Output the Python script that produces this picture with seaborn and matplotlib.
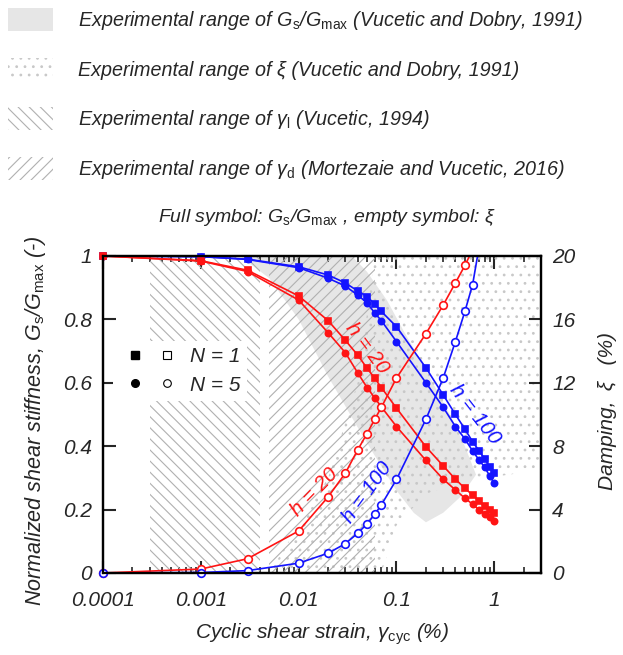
import numpy as np
import pandas as pd
import seaborn as sns
import matplotlib
matplotlib.use('Agg')
import matplotlib.pyplot as plt
from matplotlib.patches import Patch, Rectangle
from matplotlib.lines import Line2D
from matplotlib.legend_handler import HandlerTuple
from matplotlib.ticker import FuncFormatter, LogLocator, NullFormatter

# cyclic shear strain (%)
strain = [0.0001, 0.001, 0.003, 0.01, 0.02, 0.03, 0.04, 0.05, 0.06, 0.07,
          0.1, 0.2, 0.3, 0.4, 0.5, 0.6, 0.7, 0.8, 0.9, 1.0]

# Gs/Gmax, h = 20
g_h20_n1 = [1.0, 0.985, 0.955, 0.874, 0.796, 0.734, 0.688, 0.646, 0.614, 0.585,
            0.52, 0.398, 0.338, 0.296, 0.267, 0.246, 0.227, 0.211, 0.199, 0.188]
g_h20_n5 = [1.0, 0.984, 0.951, 0.861, 0.758, 0.695, 0.632, 0.585, 0.552, 0.524,
            0.462, 0.355, 0.296, 0.262, 0.236, 0.217, 0.199, 0.187, 0.176, 0.163]
# Gs/Gmax, h = 100
g_h100_n1 = [1.0, 0.998, 0.99, 0.966, 0.94, 0.915, 0.89, 0.872, 0.848, 0.825,
             0.777, 0.647, 0.562, 0.50, 0.454, 0.414, 0.385, 0.359, 0.335, 0.315]
g_h100_n5 = [1.0, 0.998, 0.989, 0.963, 0.93, 0.905, 0.877, 0.852, 0.82, 0.796,
             0.73, 0.60, 0.523, 0.462, 0.423, 0.385, 0.356, 0.333, 0.305, 0.283]

# damping (%), curves leave the plot at the top
xi_h20 = [0.0, 0.25, 0.9, 2.65, 4.8, 6.3, 7.75, 8.8, 9.7, 10.45,
          12.3, 15.1, 16.9, 18.3, 19.4, 20.4]
xi_h100 = [0.0, 0.03, 0.15, 0.62, 1.25, 1.85, 2.5, 3.1, 3.7, 4.3,
           5.9, 9.7, 12.3, 14.6, 16.5, 18.2, 20.6]

# experimental ranges
gmod_range_x = [0.0025, 0.005, 0.01, 0.02, 0.04, 0.06, 0.1, 0.15, 0.2,
                0.3, 0.45, 0.65, 0.5, 0.35, 0.2, 0.12, 0.08, 0.05, 0.035]
gmod_range_g = [1.0, 0.93, 0.8, 0.62, 0.46, 0.37, 0.26, 0.19, 0.16,
                0.19, 0.24, 0.31, 0.40, 0.50, 0.64, 0.76, 0.86, 0.95, 1.0]
damp_range_x = [0.005, 0.02, 0.04, 0.06, 3.0, 3.0, 0.5, 0.2, 0.1, 0.07]
damp_range_xi = [0.0, 6.0, 12.0, 20.0, 20.0, 6.5, 5.8, 5.0, 3.0, 0.0]
gamma_l_range = (3e-4, 4e-3)
gamma_d_range = (5e-3, 6e-2)

RED = '#ff1414'
BLUE = '#1414ff'
HATCH = '#b0b0b0'
DOTS = '#c8c8c8'
GRAY = '#e6e6e6'

sns.set_style('ticks')
plt.rcParams['font.family'] = ['Liberation Sans', 'DejaVu Sans']
plt.rcParams['font.style'] = 'italic'
plt.rcParams['mathtext.fontset'] = 'custom'
plt.rcParams['mathtext.rm'] = 'Liberation Sans:style=normal'
plt.rcParams['mathtext.it'] = 'Liberation Sans:style=italic'
plt.rcParams['hatch.linewidth'] = 0.8


def draw_series(ax, y, marker, ms, color, filled=True):
    df = pd.DataFrame({'strain': strain[:len(y)], 'val': y})
    sns.lineplot(data=df, x='strain', y='val', ax=ax, color=color, lw=1.2,
                 marker=marker, markersize=ms, markeredgewidth=1.2,
                 markeredgecolor=color,
                 markerfacecolor=color if filled else 'white',
                 legend=False)
    return ax.lines[-1]


fig = plt.figure(figsize=(6.23, 6.55), dpi=100)
ax = fig.add_axes([0.1653, 0.1252, 0.7031, 0.4840])
ax.set_xscale('log')

# background ranges
ax.fill(gmod_range_x, gmod_range_g, facecolor=GRAY, edgecolor='none', zorder=0.5)
ax.fill(damp_range_x, np.array(damp_range_xi) / 20.0, facecolor='none', edgecolor=DOTS,
        hatch='..', lw=0, zorder=0.6)
ax.axvspan(*gamma_l_range, facecolor='none', edgecolor=HATCH, hatch='\\\\\\', lw=0, zorder=0.7)
ax.axvspan(*gamma_d_range, facecolor='none', edgecolor=HATCH, hatch='///', lw=0, zorder=0.7)

# stiffness curves (blue first so red sits on top at small strain)
for y, mk, ms, col in [(g_h100_n1, 's', 5, BLUE), (g_h100_n5, 'o', 4.5, BLUE),
                       (g_h20_n1, 's', 5, RED), (g_h20_n5, 'o', 4.5, RED)]:
    ln = draw_series(ax, y, mk, ms, col)
    ln.set_clip_on(False)
    ln.set_zorder(3)

ax.set_xlim(1e-4, 3)
ax.set_ylim(0, 1)

# damping curves on the right axis
ax2 = ax.twinx()
for y, col in [(xi_h20, RED), (xi_h100, BLUE)]:
    ln = draw_series(ax2, y, 'o', 5.5, col, filled=False)
    ln.set_clip_path(Rectangle((-0.05, -0.05), 1.1, 1.05, transform=ax2.transAxes))
ax2.set_ylim(0, 20)

# axes formatting
ax.xaxis.set_major_locator(LogLocator(base=10, numticks=10))
ax.xaxis.set_minor_locator(LogLocator(base=10, subs=np.arange(2, 10), numticks=10))
ax.xaxis.set_minor_formatter(NullFormatter())
ax.xaxis.set_major_formatter(FuncFormatter(lambda v, p: '{:g}'.format(v)))
ax.set_yticks(np.arange(0, 1.01, 0.2))
ax.yaxis.set_major_formatter(FuncFormatter(lambda v, p: '{:g}'.format(round(v, 1))))
ax2.set_yticks(np.arange(0, 21, 4))

ax.tick_params(axis='x', which='both', direction='in', top=True, bottom=True)
ax.tick_params(axis='y', which='both', direction='in', left=True, right=False)
ax2.tick_params(axis='y', which='both', direction='in', left=False, right=True)
for a in (ax, ax2):
    a.tick_params(which='major', length=9, width=1.5, labelsize=15, pad=8)
    a.tick_params(which='minor', length=4.5, width=1.2)
    for s in a.spines.values():
        s.set_linewidth(1.6)
        s.set_color('black')
ax.tick_params(axis='x', which='major', pad=13)

ax.set_xlabel('Cyclic shear strain, γ$_\\mathrm{cyc}$ (%)', fontsize=15, labelpad=8)
ax.set_ylabel('Normalized shear stiffness, G$_\\mathrm{s}$/G$_\\mathrm{max}$ (-)', fontsize=15.5, labelpad=11)
ax2.set_ylabel('Damping,\u2002ξ\u2002 (%)', fontsize=15, labelpad=16)
ax.yaxis.label.set_y(0.48)
ax2.yaxis.label.set_y(0.51)

# curve labels
ax.text(0.05, 0.71, 'h = 20', color=RED, fontsize=15, rotation=-53, ha='center', va='center')
ax.text(0.0145, 0.256, 'h = 20', color=RED, fontsize=15, rotation=46, ha='center', va='center')
ax.text(0.05, 0.254, 'h = 100', color=BLUE, fontsize=15, rotation=54, ha='center', va='center')
ax.text(0.64, 0.50, 'h = 100', color=BLUE, fontsize=15, rotation=-52, ha='center', va='center')

# N legend inside the plot
h_n1 = (Line2D([], [], ls='none', marker='s', ms=6, color='black'),
        Line2D([], [], ls='none', marker='s', ms=6, mfc='white', mec='black', mew=0.8))
h_n5 = (Line2D([], [], ls='none', marker='o', ms=5.5, color='black'),
        Line2D([], [], ls='none', marker='o', ms=5.5, mfc='white', mec='black', mew=0.8))
leg = ax.legend([h_n1, h_n5], ['N = 1', 'N = 5'], handler_map={tuple: HandlerTuple(ndivide=None, pad=0)},
                loc='upper left', bbox_to_anchor=(0.0, 0.765), fontsize=15, handlelength=3.0,
                handletextpad=0.4, labelspacing=0.45, borderpad=0.3, frameon=True,
                fancybox=False, framealpha=1, edgecolor='none', facecolor='white')
leg.set_zorder(2)

# legend of experimental ranges above the plot
range_handles = [
    Patch(facecolor=GRAY, edgecolor='none'),
    Patch(facecolor='white', edgecolor=DOTS, hatch='..', lw=0),
    Patch(facecolor='white', edgecolor=HATCH, hatch='\\\\\\', lw=0),
    Patch(facecolor='white', edgecolor=HATCH, hatch='///', lw=0),
]
range_labels = [
    'Experimental range of G$_\\mathrm{s}$/G$_\\mathrm{max}$ (Vucetic and Dobry, 1991)',
    'Experimental range of ξ (Vucetic and Dobry, 1991)',
    'Experimental range of γ$_\\mathrm{l}$ (Vucetic, 1994)',
    'Experimental range of γ$_\\mathrm{d}$ (Mortezaie and Vucetic, 2016)',
]
fig.legend(range_handles, range_labels, loc='upper left', bbox_to_anchor=(0.013, 0.988),
           fontsize=14.2, handlelength=2.3, handleheight=1.45, handletextpad=1.25,
           labelspacing=1.3, borderpad=0, borderaxespad=0, frameon=False)
fig.text(0.525, 1 - 217 / 655, 'Full symbol: G$_\\mathrm{s}$/G$_\\mathrm{max}$ , empty symbol: $\\xi$',
         fontsize=14, ha='center', va='center')

fig.savefig('out.png', dpi=100)
